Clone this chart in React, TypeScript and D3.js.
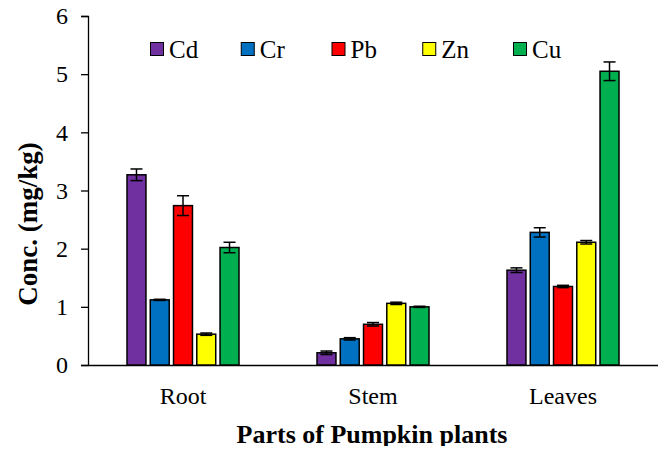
import { useEffect, useRef } from "react";
import * as d3 from "d3";

const parts = ["Root", "Stem", "Leaves"];
const metals = ["Cd", "Cr", "Pb", "Zn", "Cu"];
const colors = ["#7030A0", "#0070C0", "#FF0000", "#FFFF00", "#00B050"];

// mean concentration per part, in metal order
const cdValues = [3.27, 0.21, 1.63];
const crValues = [1.12, 0.45, 2.28];
const pbValues = [2.74, 0.7, 1.35];
const znValues = [0.53, 1.06, 2.11];
const cuValues = [2.02, 1.0, 5.05];

const cdErr = [0.1, 0.03, 0.04];
const crErr = [0.01, 0.02, 0.08];
const pbErr = [0.17, 0.03, 0.02];
const znErr = [0.02, 0.02, 0.03];
const cuErr = [0.09, 0.01, 0.16];

const yTicks = [0, 1, 2, 3, 4, 5, 6];

const FONT = "Liberation Serif, Times New Roman, serif";

const App = () => {
  const ref = useRef<SVGSVGElement>(null);

  useEffect(() => {
    if (!ref.current) return;
    const width = 666;
    const height = 450;
    const marginTop = 16;
    const marginLeft = 88;
    const plotRight = 658;
    const plotBottom = 365;

    const svg = d3.select(ref.current);
    svg.selectAll("*").remove();
    svg.attr("width", width).attr("height", height);

    const values = [cdValues, crValues, pbValues, znValues, cuValues];
    const errs = [cdErr, crErr, pbErr, znErr, cuErr];
    const data = parts.flatMap((p, i) =>
      metals.map((m, j) => ({
        part: p,
        metal: m,
        value: values[j][i],
        err: errs[j][i],
        color: colors[j],
      }))
    );

    const x = d3.scaleBand().domain(parts).range([marginLeft, plotRight]);
    const x1 = d3
      .scaleBand()
      .domain(metals)
      .range([-56, 56])
      .paddingInner(0.185);
    const y = d3.scaleLinear().domain([0, 6]).range([plotBottom, marginTop]);

    // y axis
    svg
      .append("g")
      .attr("transform", `translate(${marginLeft},0)`)
      .call(
        d3
          .axisLeft(y)
          .tickValues(yTicks)
          .tickFormat(d3.format("d"))
          .tickSize(7)
          .tickPadding(13)
      )
      .call((g) => g.selectAll("path,line").attr("stroke", "#000").attr("stroke-width", 1.3))
      .call((g) =>
        g
          .selectAll("text")
          .style("font-family", FONT)
          .style("font-size", "24px")
          .attr("fill", "#000")
      );

    // x axis
    svg
      .append("g")
      .attr("transform", `translate(0,${plotBottom})`)
      .call(d3.axisBottom(x).tickSize(0).tickPadding(22))
      .call((g) => g.select(".domain").attr("stroke", "#000").attr("stroke-width", 1.3))
      .call((g) =>
        g
          .selectAll("text")
          .style("font-family", FONT)
          .style("font-size", "24px")
          .attr("fill", "#000")
      );

    // bars
    const bars = svg
      .append("g")
      .selectAll("g")
      .data(data)
      .join("g")
      .attr(
        "transform",
        (d) => `translate(${(x(d.part) ?? 0) + x.bandwidth() / 2 + (x1(d.metal) ?? 0)},0)`
      );

    bars
      .append("rect")
      .attr("y", (d) => y(d.value))
      .attr("width", x1.bandwidth())
      .attr("height", (d) => plotBottom - y(d.value))
      .attr("fill", (d) => d.color)
      .attr("stroke", "#000")
      .attr("stroke-width", 1.5);

    // error bars
    const cx = x1.bandwidth() / 2;
    const eb = bars.append("g").attr("stroke", "#000").attr("stroke-width", 1.5);
    eb.append("line")
      .attr("x1", cx)
      .attr("x2", cx)
      .attr("y1", (d) => y(d.value + d.err))
      .attr("y2", (d) => y(d.value - d.err));
    eb.append("line")
      .attr("x1", cx - 6)
      .attr("x2", cx + 6)
      .attr("y1", (d) => y(d.value + d.err))
      .attr("y2", (d) => y(d.value + d.err));
    eb.append("line")
      .attr("x1", cx - 6)
      .attr("x2", cx + 6)
      .attr("y1", (d) => y(d.value - d.err))
      .attr("y2", (d) => y(d.value - d.err));

    // legend
    const lx = d3.scalePoint().domain(metals).range([150, 513]);
    const leg = svg
      .append("g")
      .selectAll("g")
      .data(metals)
      .join("g")
      .attr("transform", (d) => `translate(${lx(d)},42)`);
    leg
      .append("rect")
      .attr("x", 0.5)
      .attr("y", 0.5)
      .attr("width", 13)
      .attr("height", 13)
      .attr("fill", (_, i) => colors[i])
      .attr("stroke", "#000")
      .attr("stroke-width", 1);
    leg
      .append("text")
      .attr("x", 19)
      .attr("y", 16)
      .style("font-family", FONT)
      .style("font-size", "25px")
      .text((d) => d);

    // axis titles
    svg
      .append("text")
      .attr("x", (marginLeft + plotRight) / 2 - 1)
      .attr("y", 443)
      .attr("text-anchor", "middle")
      .style("font-family", FONT)
      .style("font-size", "26px")
      .style("font-weight", "bold")
      .text("Parts of Pumpkin plants");

    svg
      .append("text")
      .attr("transform", "translate(37,224) rotate(-90)")
      .attr("text-anchor", "middle")
      .style("font-family", FONT)
      .style("font-size", "27px")
      .style("font-weight", "bold")
      .text("Conc. (mg/kg)");
  }, []);

  return (
    <div style={{ margin: -8 }}>
      <svg ref={ref}></svg>
    </div>
  );
};

export default App;
